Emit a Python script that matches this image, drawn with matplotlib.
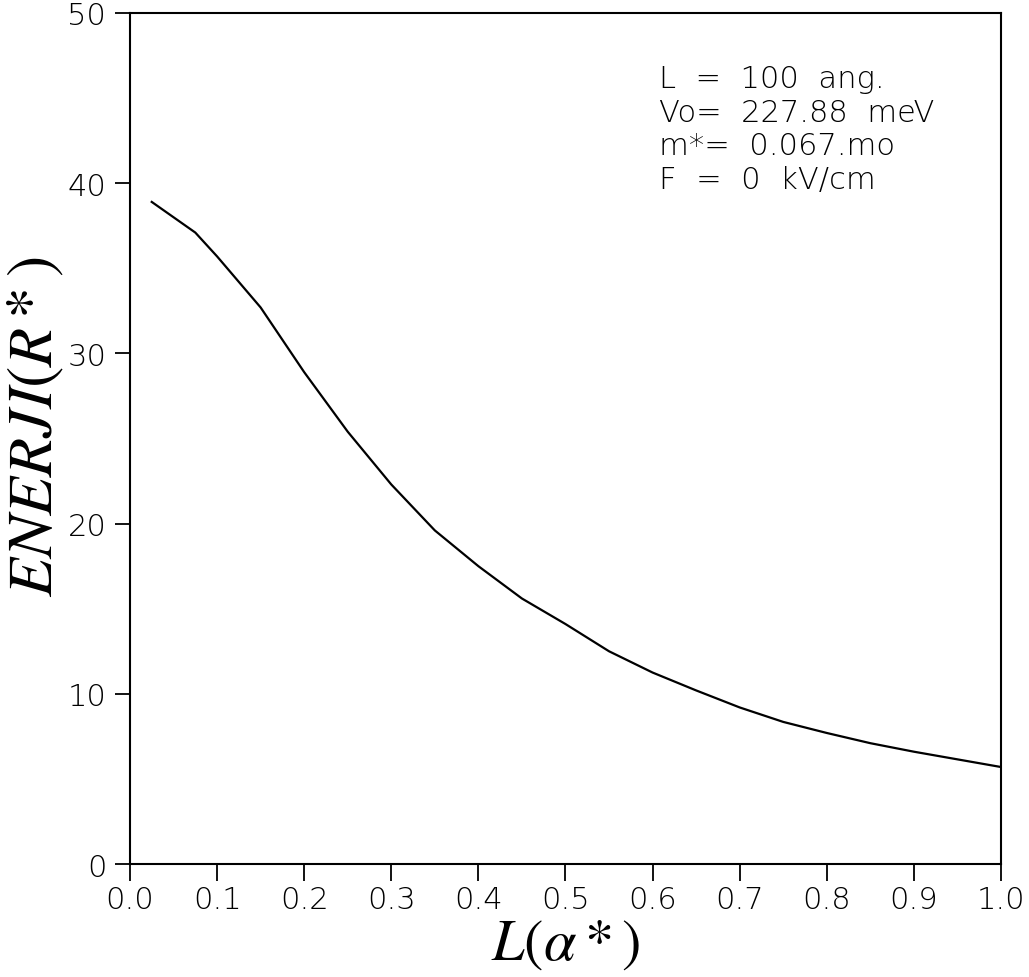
import numpy as np
import matplotlib
matplotlib.use("Agg")
import matplotlib.pyplot as plt

# values
L_a = [0.025, 0.075, 0.10, 0.15, 0.20, 0.25, 0.30, 0.35, 0.40, 0.45, 0.50,
       0.55, 0.60, 0.65, 0.70, 0.75, 0.80, 0.85, 0.90, 0.95, 1.00]
enerji = [38.9, 37.1, 35.7, 32.7, 28.9, 25.4, 22.3, 19.6, 17.5, 15.6, 14.1,
          12.5, 11.25, 10.2, 9.2, 8.35, 7.7, 7.1, 6.6, 6.15, 5.7]

xticks = [0.0, 0.1, 0.2, 0.3, 0.4, 0.5, 0.6, 0.7, 0.8, 0.9, 1.0]
yticks = [0, 10, 20, 30, 40, 50]
info = ["L  =  100  ang.", "Vo=  227.88  meV", "m*=  0.067.mo", "F  =  0  kV/cm"]

plt.rcParams["mathtext.fontset"] = "stix"
tickfont = dict(family="DejaVu Sans", weight="light", size=22)

fig = plt.figure(figsize=(10.29, 9.78), dpi=100)
ax = fig.add_axes([0.1263, 0.1155, 0.8465, 0.8702])

ax.plot(L_a, enerji, color="black", lw=1.6)

ax.set_xlim(0, 1.0)
ax.set_ylim(0, 50)
ax.set_xticks(xticks)
ax.set_yticks(yticks)
ax.set_xticklabels(["%.1f" % t for t in xticks], fontdict=tickfont)
ax.set_yticklabels([str(t) for t in yticks], fontdict=tickfont)
ax.tick_params(axis="x", direction="out", length=12, width=1.3, pad=3)
ax.tick_params(axis="y", direction="out", length=11, width=1.3, pad=6)
for s in ax.spines.values():
    s.set_linewidth(1.5)

ax.set_xlabel(r"$L(\alpha *)$", fontsize=42, labelpad=0)
ax.set_ylabel(r"$ENERJI(R*)$", fontsize=46)
ax.yaxis.set_label_coords(-0.074, 0.515)

ax.text(0.607, 0.94, "\n".join(info), transform=ax.transAxes,
        fontdict=tickfont, va="top", ha="left", linespacing=1.2)

fig.savefig("out.png", dpi=100)
